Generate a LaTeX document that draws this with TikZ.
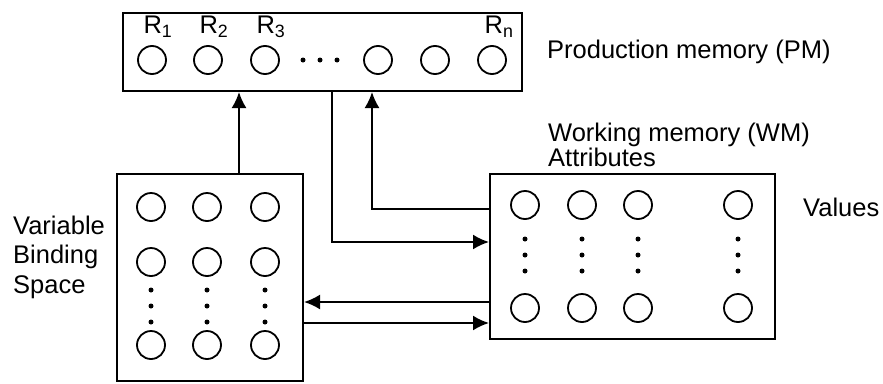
\documentclass[tikz,border=0pt]{standalone}
\usepackage{fontspec}
\setmainfont{Liberation Sans}
\usetikzlibrary{arrows.meta,positioning,calc}

\begin{document}
\begin{tikzpicture}[
    x=1pt, y=-1pt,
    mem/.style={draw, line width=2pt, inner sep=0pt},
    cell/.style={draw, circle, line width=1.8pt, minimum size=28pt, inner sep=0pt},
    lbl/.style={font=\fontsize{25.5}{29.5}\selectfont, align=left, inner sep=0pt},
    arr/.style={-{Latex[length=16pt,width=15pt]}, line width=2pt},
]
    \useasboundingbox (0,0) rectangle (883,383);

    % the three memories
    \node[mem, minimum width=399pt, minimum height=78pt] (pm) at (322.5,52) {};
    \node[mem, minimum width=186pt, minimum height=207pt] (vbs) at (210,277.5) {};
    \node[mem, minimum width=285pt, minimum height=165pt] (wm) at (632.5,256.5) {};

    % production memory: rules
    \foreach \x [count=\i] in {152,208,265,378,435,492}
        \node[cell] (r\i) at (\x,60) {};
    \foreach \x in {303,320,337}
        \fill (\x,60) circle (2.5);
    \node[lbl] (rl1) at (158,27) {R\textsubscript{1}};
    \node[lbl] (rl2) at (214,27) {R\textsubscript{2}};
    \node[lbl] (rl3) at (271,27) {R\textsubscript{3}};
    \node[lbl] (rln) at (499,27) {R\textsubscript{n}};

    % variable binding space
    \foreach \x [count=\i] in {151,207,265} {
        \foreach \y [count=\j] in {207,262,345}
            \node[cell] (v\i\j) at (\x,\y) {};
        \foreach \y in {290,306,322}
            \fill (\x,\y) circle (2.5);
    }

    % working memory
    \foreach \x [count=\i] in {525,582,638,738} {
        \node[cell] (w\i1) at (\x,205) {};
        \node[cell] (w\i2) at (\x,308) {};
        \foreach \y in {239,255,271}
            \fill (\x,\y) circle (2.5);
    }

    % labels
    \node[lbl, anchor=west] (pmlbl) at (547,52) {Production memory (PM)};
    \node[lbl, anchor=west, font=\fontsize{25.5}{25}\selectfont] (wmlbl) at (548,145) {Working memory (WM)\\Attributes};
    \node[lbl, anchor=west] (vallbl) at (803,207) {Values};
    \node[lbl, anchor=west] (vbslbl) at (13,257) {Variable\\Binding\\Space};

    % connectors
    \coordinate (up) at (239,0);
    \coordinate (down) at (332,242);
    \coordinate (fb) at (372,209);
    \coordinate (back) at (0,302);
    \coordinate (fwd) at (0,323);

    \draw[arr] (vbs.north -| up) -- (pm.south -| up);
    \draw[arr] (pm.south -| down) |- (wm.west |- down);
    \draw[arr] (wm.west |- fb) -| (pm.south -| fb);
    \draw[arr] (wm.west |- back) -- (vbs.east |- back);
    \draw[arr] (vbs.east |- fwd) -- (wm.west |- fwd);
\end{tikzpicture}
\end{document}
